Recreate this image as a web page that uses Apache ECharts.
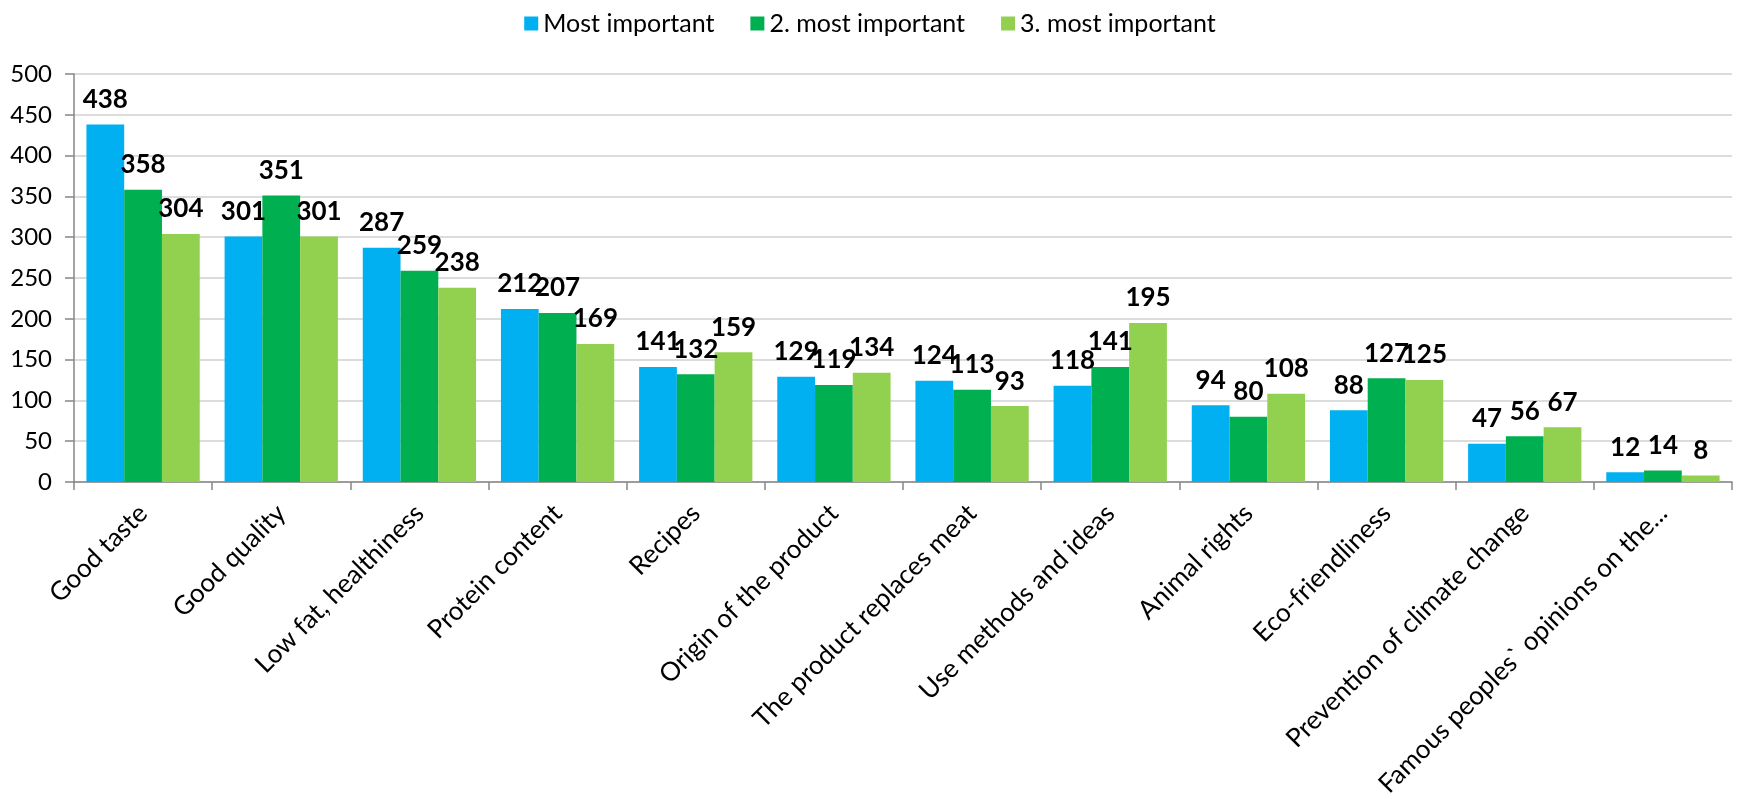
<!DOCTYPE html>
<html>
<head>
<meta charset="utf-8">
<script src="https://cdn.jsdelivr.net/npm/echarts@6/dist/echarts.min.js"></script>
<style>
html,body{margin:0;padding:0;background:#fff;}
#chart{width:1740px;height:799px;}
</style>
</head>
<body>
<div id="chart"></div>
<script>
const categories = ["Good taste","Good quality","Low fat, healthiness","Protein content","Recipes","Origin of the product","The product replaces meat","Use methods and ideas","Animal rights","Eco-friendliness","Prevention of climate change","Famous peoples` opinions on the..."];
const seriesNames = ["Most important","2. most important","3. most important"];
const mostImportant = [438,301,287,212,141,129,124,118,94,88,47,12];
const secondImportant = [358,351,259,207,132,119,113,141,80,127,56,14];
const thirdImportant = [304,301,238,169,159,134,93,195,108,125,67,8];
const colors = ["#00B0F0","#00B050","#92D050"];
const FONT = "Lato, 'Open Sans', sans-serif";

const chart = echarts.init(document.getElementById('chart'), null, {renderer:'canvas'});
const mk = (name, data, color) => ({
  name, type:'bar', data,
  itemStyle:{color},
  barGap:'0%', barCategoryGap:'18%',
  label:{show:true, position:'top', distance:12, color:'#000', fontWeight:'bold', fontSize:26, fontFamily:FONT}
});
chart.setOption({
  animation:false,
  textStyle:{fontFamily:FONT},
  legend:{
    top:6, left:'center', itemWidth:14, itemHeight:14, itemGap:36,
    icon:'rect',
    textStyle:{fontSize:25, color:'#000', fontFamily:FONT},
    data:seriesNames
  },
  grid:{left:74, right:8, top:74, bottom:317, containLabel:false, outerBoundsMode:'none'},
  xAxis:{
    type:'category', data:categories,
    axisLine:{lineStyle:{color:'#868686', width:1.5}},
    axisTick:{show:true, length:8, lineStyle:{color:'#868686', width:1.5}, alignWithLabel:false},
    axisLabel:{rotate:45, fontSize:26, color:'#000', margin:27, fontFamily:FONT, interval:0}
  },
  yAxis:{
    type:'value', min:0, max:500, interval:50,
    axisLine:{show:true, lineStyle:{color:'#868686', width:1.5}},
    axisTick:{show:true, length:9, lineStyle:{color:'#868686', width:1.5}},
    axisLabel:{fontSize:24, color:'#000', margin:22, fontFamily:FONT},
    splitLine:{lineStyle:{color:'#D0D0D0', width:1.5}}
  },
  series:[
    mk(seriesNames[0], mostImportant, colors[0]),
    mk(seriesNames[1], secondImportant, colors[1]),
    mk(seriesNames[2], thirdImportant, colors[2])
  ]
});
</script>
</body>
</html>
